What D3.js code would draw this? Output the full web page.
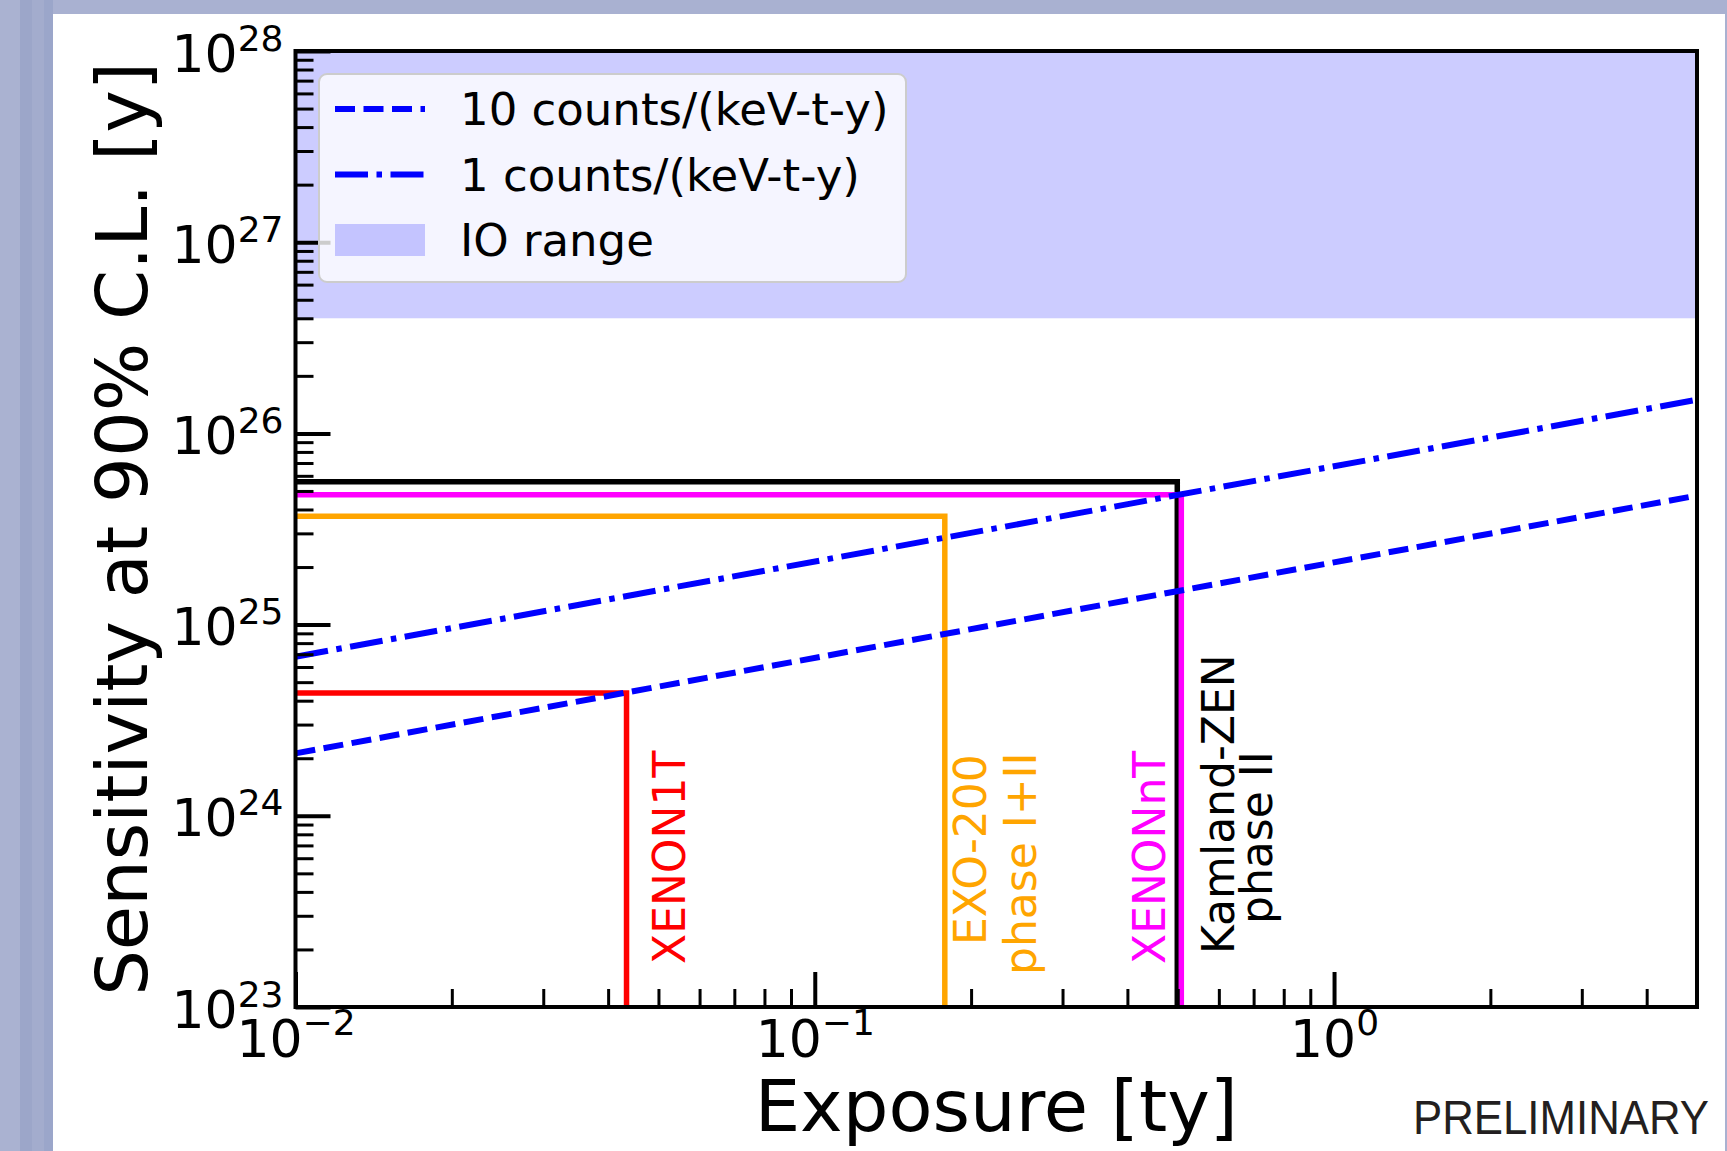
<!DOCTYPE html>
<html>
<head>
<meta charset="utf-8">
<script src="https://cdn.jsdelivr.net/npm/d3@7"></script>
<style>
  html, body { margin: 0; padding: 0; background: #a9b1d1; }
  svg { display: block; }
  text { font-family: 'DejaVu Sans', sans-serif; }
</style>
</head>
<body>
<svg id="chart"></svg>
<script>
// experiments: step line from the left edge to (exposure, sensitivity), then down
const experimentNames = ['Kamland-ZEN', 'XENONnT', 'EXO-200', 'XENON1T'];
const experimentExposure = [0.499, 0.508, 0.178, 0.0434];       // ty
const experimentSensitivity = [5.59e25, 4.78e25, 3.69e25, 4.39e24]; // y
const experimentLabels = [['Kamland-ZEN', 'phase II'], ['XENONnT'], ['EXO-200', 'phase I+II'], ['XENON1T']];
const experimentColors = ['#000000', '#ff00ff', '#ffa500', '#ff0000'];

// background-level sensitivity lines (straight in log-log)
const bkgNames = ['10 counts/(keV-t-y)', '1 counts/(keV-t-y)'];
const bkgExposure = [0.01, 5];
const bkg10Sensitivity = [2.12e24, 4.73e25];
const bkg1Sensitivity = [6.79e24, 1.5e26];

// inverted ordering band
const ioName = 'IO range';
const ioRange = [4.0e26, 1e28];

const xTickValues = [0.01, 0.1, 1];
const xTickExponents = ['\u22122', '\u22121', '0'];
const yTickValues = [1e23, 1e24, 1e25, 1e26, 1e27, 1e28];
const yTickExponents = ['23', '24', '25', '26', '27', '28'];

const width = 1727;
const height = 1151;
const plot = { left: 295.5, right: 1697, top: 51, bottom: 1007 };

const svg = d3.select('#chart')
  .attr('width', width)
  .attr('height', height);

// slide background + white page
svg.append('rect').attr('width', width).attr('height', height).attr('fill', '#a9b1d1');
[[0, 20, '#aab2d1'], [20, 12, '#9ca6c9'], [32, 12, '#a3accd'], [44, 9, '#9ba6ca']].forEach(function(s) {
  svg.append('rect').attr('x', s[0]).attr('y', 0).attr('width', s[1]).attr('height', height).attr('fill', s[2]);
});
svg.append('rect')
  .attr('x', 53).attr('y', 14)
  .attr('width', 1672).attr('height', height - 14)
  .attr('fill', '#ffffff');

const x = d3.scaleLog().domain([0.01, 5]).range([plot.left, plot.right]);
const y = d3.scaleLog().domain([1e23, 1e28]).range([plot.bottom, plot.top]);

svg.append('defs').append('clipPath').attr('id', 'plotClip')
  .append('rect')
  .attr('x', plot.left).attr('y', plot.top)
  .attr('width', plot.right - plot.left).attr('height', plot.bottom - plot.top);

const chart = svg.append('g').attr('clip-path', 'url(#plotClip)');

// IO band
chart.append('rect')
  .attr('x', plot.left)
  .attr('width', plot.right - plot.left)
  .attr('y', y(ioRange[1]))
  .attr('height', y(ioRange[0]) - y(ioRange[1]))
  .attr('fill', 'blue')
  .attr('fill-opacity', 0.2);

const line = d3.line().x(function(d) { return x(d[0]); }).y(function(d) { return y(d[1]); });

// experiment steps
experimentNames.forEach(function(name, i) {
  const pts = [
    [x.domain()[0], experimentSensitivity[i]],
    [experimentExposure[i], experimentSensitivity[i]],
    [experimentExposure[i], y.domain()[0]]
  ];
  chart.append('path')
    .attr('d', line(pts))
    .attr('fill', 'none')
    .attr('stroke', experimentColors[i])
    .attr('stroke-width', 5.5)
    .attr('stroke-linejoin', 'miter');
});

// blue lines
const bkgSeries = [bkg10Sensitivity, bkg1Sensitivity];
const bkgDash = ['20,8.5', '33,8.5,5.5,8.5'];
bkgSeries.forEach(function(vals, i) {
  chart.append('path')
    .attr('d', line(bkgExposure.map(function(e, j) { return [e, vals[j]]; })))
    .attr('fill', 'none')
    .attr('stroke', '#0000ff')
    .attr('stroke-width', 6)
    .attr('stroke-dasharray', bkgDash[i]);
});

// experiment labels (rotated)
const labelOffsets = [
  [[57, -53], [95, -83]],
  [[-16, -43]],
  [[41, -62], [91, -32]],
  [[58.5, -43]]
];
experimentLabels.forEach(function(lines, i) {
  lines.forEach(function(txt, j) {
    const bx = x(experimentExposure[i]) + labelOffsets[i][j][0];
    const by = y(y.domain()[0]) + labelOffsets[i][j][1];
    svg.append('text')
      .attr('transform', 'translate(' + bx + ',' + by + ') rotate(-90)')
      .attr('font-size', 44)
      .attr('fill', experimentColors[i])
      .text(txt);
  });
});

// axes: inside ticks
function isMajor(v) {
  const l = Math.log10(v);
  return Math.abs(l - Math.round(l)) < 1e-9;
}

const yMinorG = svg.append('g')
  .attr('transform', 'translate(' + plot.left + ',0)')
  .call(d3.axisLeft(y).tickValues(y.ticks().filter(function(v) { return !isMajor(v); }))
    .tickSize(-18).tickFormat(''));
const yMajorG = svg.append('g')
  .attr('transform', 'translate(' + plot.left + ',0)')
  .call(d3.axisLeft(y).tickValues(yTickValues).tickSize(-35).tickFormat(''));
const xMinorG = svg.append('g')
  .attr('transform', 'translate(0,' + plot.bottom + ')')
  .call(d3.axisBottom(x).tickValues(x.ticks().filter(function(v) { return !isMajor(v); }))
    .tickSize(-18).tickFormat(''));
const xMajorG = svg.append('g')
  .attr('transform', 'translate(0,' + plot.bottom + ')')
  .call(d3.axisBottom(x).tickValues(xTickValues).tickSize(-35).tickFormat(''));

[yMinorG, yMajorG, xMinorG, xMajorG].forEach(function(g) {
  g.select('.domain').remove();
  g.selectAll('.tick text').remove();
  g.attr('font-family', null).attr('font-size', null);
});
yMinorG.selectAll('.tick line').attr('stroke', '#000').attr('stroke-width', 3);
xMinorG.selectAll('.tick line').attr('stroke', '#000').attr('stroke-width', 3);
yMajorG.selectAll('.tick line').attr('stroke', '#000').attr('stroke-width', 4);
xMajorG.selectAll('.tick line').attr('stroke', '#000').attr('stroke-width', 4);

// tick labels 10^n
yMajorG.selectAll('.tick').each(function(d, i) {
  const t = d3.select(this).append('text')
    .attr('x', -12).attr('y', 20)
    .attr('text-anchor', 'end')
    .attr('fill', '#000');
  t.append('tspan').attr('font-size', 52).text('10');
  t.append('tspan').attr('font-size', 36).attr('dy', -21).text(yTickExponents[i]);
});
xMajorG.selectAll('.tick').each(function(d, i) {
  const t = d3.select(this).append('text')
    .attr('x', 0).attr('y', 50)
    .attr('text-anchor', 'middle')
    .attr('fill', '#000');
  t.append('tspan').attr('font-size', 52).text('10');
  t.append('tspan').attr('font-size', 36).attr('dy', -22).text(xTickExponents[i]);
});

// frame
svg.append('rect')
  .attr('x', plot.left).attr('y', plot.top)
  .attr('width', plot.right - plot.left).attr('height', plot.bottom - plot.top)
  .attr('fill', 'none')
  .attr('stroke', '#000')
  .attr('stroke-width', 4);

// axis titles
svg.append('text')
  .attr('x', (plot.left + plot.right) / 2)
  .attr('y', 1131)
  .attr('text-anchor', 'middle')
  .attr('font-size', 72)
  .text('Exposure [ty]');

svg.append('text')
  .attr('transform', 'translate(147,' + (plot.top + plot.bottom) / 2 + ') rotate(-90)')
  .attr('text-anchor', 'middle')
  .attr('font-size', 72)
  .text('Sensitivity at 90% C.L. [y]');

// legend
const legend = svg.append('g').attr('transform', 'translate(319,74)');
legend.append('rect')
  .attr('width', 587).attr('height', 208)
  .attr('rx', 8).attr('ry', 8)
  .attr('fill', '#ffffff').attr('fill-opacity', 0.8)
  .attr('stroke', '#cccccc').attr('stroke-width', 2);

const legendItems = bkgNames.map(function(n, i) { return { name: n, dash: bkgDash[i] }; })
  .concat([{ name: ioName, patch: true }]);

legendItems.forEach(function(item, i) {
  const cy = 35 + i * 65.5;
  if (item.patch) {
    legend.append('rect')
      .attr('x', 16).attr('y', cy - 16)
      .attr('width', 90).attr('height', 32)
      .attr('fill', 'blue').attr('fill-opacity', 0.2);
  } else {
    legend.append('line')
      .attr('x1', 16).attr('x2', 106)
      .attr('y1', cy).attr('y2', cy)
      .attr('stroke', '#0000ff')
      .attr('stroke-width', 6)
      .attr('stroke-dasharray', item.dash);
  }
  legend.append('text')
    .attr('x', 141).attr('y', cy + 16)
    .attr('font-size', 45)
    .attr('fill', '#000')
    .text(item.name);
});

// watermark
svg.append('text')
  .attr('x', 1413).attr('y', 1134)
  .attr('font-size', 48)
  .attr('textLength', 296)
  .attr('lengthAdjust', 'spacingAndGlyphs')
  .attr('fill', '#231f20')
  .style('font-family', "'Liberation Sans Narrow', 'Liberation Sans', sans-serif")
  .text('PRELIMINARY');
</script>
</body>
</html>
